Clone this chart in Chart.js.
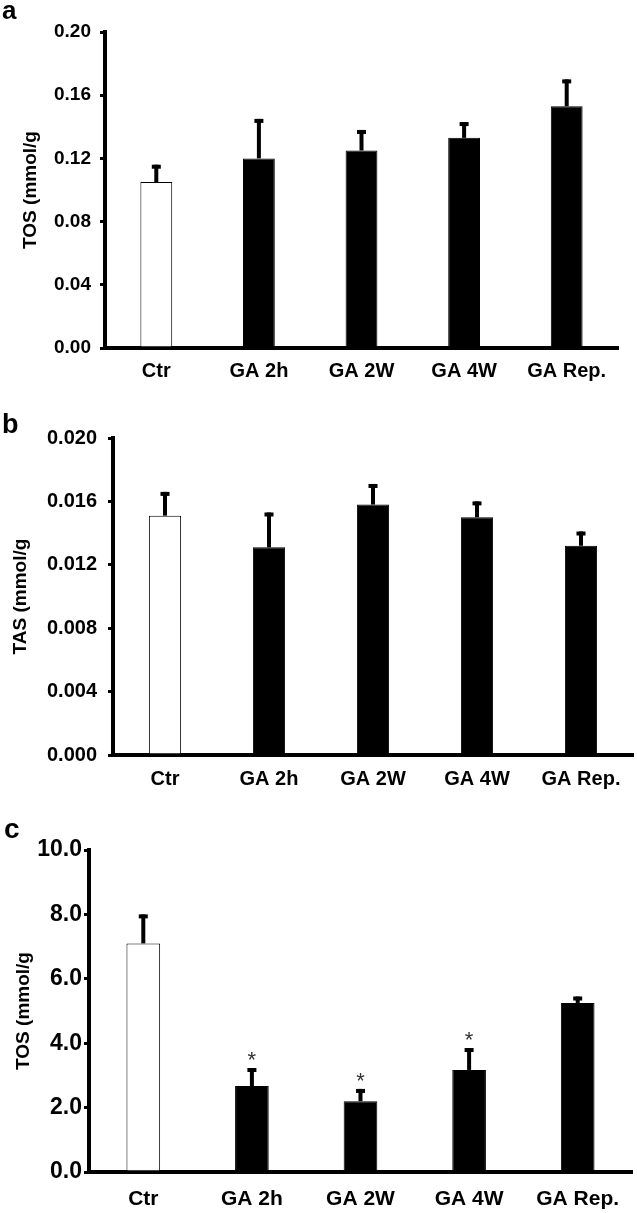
<!DOCTYPE html>
<html>
<head>
<meta charset="utf-8">
<script src="https://cdn.jsdelivr.net/npm/chart.js@4.4.1/dist/chart.umd.min.js"></script>
<style>
    body { margin: 0; background: #fff; width: 637px; height: 1213px; position: relative; overflow: hidden; }
    canvas { position: absolute; left: 0; }
</style>
</head>
<body>
<canvas id="grafico-a" width="637" height="392" style="top:0px"></canvas>
<canvas id="grafico-b" width="637" height="408" style="top:392px"></canvas>
<canvas id="grafico-c" width="637" height="423" style="top:790px"></canvas>
<script>
// categorias e valores
const categorias = ['Ctr', 'GA 2h', 'GA 2W', 'GA 4W', 'GA Rep.'];

const valoresA = [0.105, 0.120, 0.125, 0.133, 0.153];
const errosA = [0.011, 0.025, 0.013, 0.010, 0.017];
const ticksValA = [0, 0.04, 0.08, 0.12, 0.16, 0.20];
const ticksA = ['0.00', '0.04', '0.08', '0.12', '0.16', '0.20'];

const valoresB = [0.0151, 0.0131, 0.0158, 0.0150, 0.0132];
const errosB = [0.0015, 0.0022, 0.0013, 0.0010, 0.0009];
const ticksValB = [0, 0.004, 0.008, 0.012, 0.016, 0.020];
const ticksB = ['0.000', '0.004', '0.008', '0.012', '0.016', '0.020'];

const valoresC = [7.10, 2.67, 2.20, 3.17, 5.25];
const errosC = [0.90, 0.56, 0.38, 0.68, 0.20];
const asteriscosC = [false, true, true, true, false];
const ticksValC = [0, 2, 4, 6, 8, 10];
const ticksC = ['0.0', '2.0', '4.0', '6.0', '8.0', '10.0'];

const fonte = '"Liberation Sans", Arial, sans-serif';
const coresBarras = ['#fff', '#000', '#000', '#000', '#000'];

// plugin para desenhar as barras de erro (so para cima), asteriscos e a letra do painel
const barrasErro = {
    id: 'barrasErro',
    afterDatasetsDraw(chart, args, opts) {
        const ctx = chart.ctx;
        const escalaY = chart.scales.y;
        const dados = chart.data.datasets[0].data;
        const meta = chart.getDatasetMeta(0);
        ctx.save();
        meta.data.forEach(function (barra, i) {
            const topo = escalaY.getPixelForValue(dados[i] + opts.erros[i]);
            ctx.fillStyle = '#000';
            ctx.fillRect(barra.x - 2, topo, 4, barra.y - topo);
            ctx.fillRect(barra.x - 4.5, topo, 9, 4);
            if (opts.asteriscos && opts.asteriscos[i]) {
                ctx.fillStyle = '#333';
                ctx.font = '22px ' + fonte;
                ctx.textAlign = 'center';
                ctx.textBaseline = 'alphabetic';
                ctx.fillText('*', barra.x, topo - 1);
            }
        });
        ctx.fillStyle = '#000';
        ctx.font = 'bold ' + opts.letraTam + 'px ' + fonte;
        ctx.textAlign = 'left';
        ctx.textBaseline = 'alphabetic';
        ctx.fillText(opts.letra, opts.letraX, opts.letraY);
        ctx.restore();
    }
};

function criarGrafico(id, cfg) {
    return new Chart(document.getElementById(id), {
        type: 'bar',
        data: {
            labels: categorias,
            datasets: [{
                data: cfg.valores,
                backgroundColor: coresBarras,
                borderColor: '#000',
                borderWidth: 1,
                categoryPercentage: 1,
                barPercentage: 0.31
            }]
        },
        options: {
            responsive: false,
            animation: false,
            layout: { padding: { top: cfg.topo, right: cfg.direita, left: 0, bottom: 0 } },
            plugins: {
                legend: { display: false },
                tooltip: { enabled: false },
                barrasErro: {
                    erros: cfg.erros,
                    asteriscos: cfg.asteriscos,
                    letra: cfg.letra,
                    letraX: cfg.letraX,
                    letraY: cfg.letraY,
                    letraTam: cfg.letraTam
                }
            },
            scales: {
                x: {
                    ticks: { color: '#000', padding: cfg.padX, font: { family: fonte, size: cfg.tamX, weight: 'bold' } },
                    grid: { display: false },
                    border: { color: '#000', width: 4 },
                    afterFit: function (s) { s.height = cfg.alturaX; }
                },
                y: {
                    min: 0,
                    max: cfg.ticksVal[cfg.ticksVal.length - 1],
                    afterBuildTicks: function (s) { s.ticks = cfg.ticksVal.map(v => ({ value: v })); },
                    ticks: {
                        color: '#000',
                        padding: cfg.padY,
                        font: { family: fonte, size: cfg.tamY, weight: 'bold' },
                        callback: (v, i) => cfg.ticks[i]
                    },
                    grid: { drawOnChartArea: false, drawTicks: true, tickLength: 5, color: '#000', lineWidth: 3 },
                    border: { color: '#000', width: 4 },
                    title: {
                        display: true,
                        text: cfg.titulo,
                        color: '#000',
                        font: { family: fonte, size: 19, weight: 'bold' },
                        padding: { top: cfg.padTitulo, bottom: 0 }
                    },
                    afterFit: function (s) { s.width = cfg.larguraY; }
                }
            }
        },
        plugins: [barrasErro]
    });
}

criarGrafico('grafico-a', {
    valores: valoresA, erros: errosA, ticksVal: ticksValA, ticks: ticksA,
    titulo: 'TOS (mmol/g', letra: 'a', letraX: 2, letraY: 19, letraTam: 26,
    topo: 32, direita: 19, larguraY: 105, alturaX: 44, padX: 3, padY: 9,
    tamX: 20, tamY: 19, padTitulo: 19
});

criarGrafico('grafico-b', {
    valores: valoresB, erros: errosB, ticksVal: ticksValB, ticks: ticksB,
    titulo: 'TAS (mmol/g', letra: 'b', letraX: 2, letraY: 41, letraTam: 27,
    topo: 46, direita: 4, larguraY: 113, alturaX: 45, padX: 4, padY: 11,
    tamX: 20, tamY: 20, padTitulo: 9
});

criarGrafico('grafico-c', {
    valores: valoresC, erros: errosC, asteriscos: asteriscosC, ticksVal: ticksValC, ticks: ticksC,
    titulo: 'TOS (mmol/g', letra: 'c', letraX: 4, letraY: 48, letraTam: 28,
    topo: 60, direita: 5, larguraY: 89, alturaX: 41, padX: 7, padY: 2,
    tamX: 21, tamY: 23, padTitulo: 12
});
</script>
</body>
</html>
